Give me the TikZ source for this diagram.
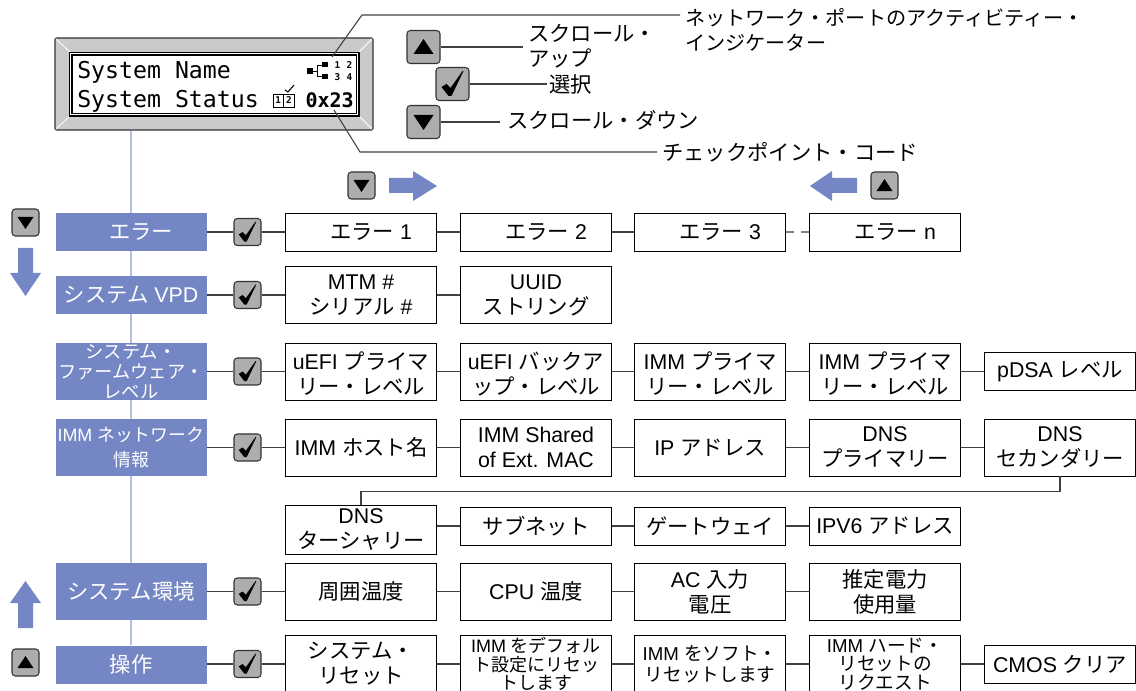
\documentclass[tikz,border=0pt]{standalone}
\usepackage{fontspec}
\setmainfont{Liberation Sans}
\setmonofont{DejaVu Sans Mono}
\newfontfamily\jpfont{Noto Sans CJK JP}
\newcommand{\J}[1]{{\jpfont #1}}
\newcommand{\lowr}{\rule{0pt}{17pt}}
\usetikzlibrary{arrows.meta}
\usetikzlibrary{calc}

\definecolor{menublue}{HTML}{7486C4}
\definecolor{linkblue}{HTML}{B4BEE0}
\definecolor{btngray}{HTML}{ADADAD}
\definecolor{bezelgray}{HTML}{CACACA}

\tikzset{
	txt/.style={font=\fontsize{16}{18.75}\selectfont},
	txtsm/.style={font=\fontsize{13.7}{15}\selectfont},
	menubox/.style={fill=menublue, text=white, minimum width=113.25pt, inner sep=0, align=center, txt},
	itembox/.style={draw=black, line width=.7pt, fill=white, minimum width=113.5pt, inner sep=0, align=center, txt},
	short/.style={minimum height=28.5pt},
	tall/.style={minimum height=42.75pt},
	btnbig/.style={draw=black!80, fill=btngray, line width=.8pt, rounded corners=2.5pt, minimum size=24.75pt, inner sep=0},
	btnsm/.style={draw=black!80, fill=btngray, line width=.8pt, rounded corners=2.5pt, minimum size=20.25pt, inner sep=0},
	lbl/.style={anchor=west, align=left, inner sep=0, txt},
	line/.style={draw=black!75, line width=.8pt},
	vline/.style={draw=linkblue, line width=1pt},
	flow/.style={fill=menublue, draw=none},
	upmark/.pic={\fill (-10,7)--(10,7)--(0,-8)--cycle;},
	downmark/.pic={\fill (-10,-7)--(10,-7)--(0,8)--cycle;},
	checkmark/.pic={\fill (-11,3)--(-6,0)--(-2,4)--(10,-13)--(11,-13)--(-1,12)--(-4,12)--cycle;},
}

\begin{document}
\begin{tikzpicture}[x=.75pt,y=-.75pt]

		\clip (0,0) rectangle (1136,691);

		% front panel
		\node [draw=black!80, fill=bezelgray, line width=.8pt, rounded corners=1pt, minimum width=238.5pt, minimum height=69pt, inner sep=0] (lcd) at (214,84) {};
		\draw [white, line width=.6pt] (56,39)--(70,52) (372,39)--(359,52) (56,129)--(70,116) (372,129)--(359,116);
		\draw [black, fill=white, line width=1pt] (69.5,52.5) rectangle (359,116);
		\draw [black, fill=white, line width=1.2pt] (72,55) rectangle (356.5,113.5);

		\node [anchor=west, inner sep=0, font=\ttfamily\fontsize{17.4}{20}\selectfont] (sysname) at (77,72) {System Name};
		\node [anchor=west, inner sep=0, font=\ttfamily\fontsize{17.4}{20}\selectfont] (sysstat) at (77,101) {System Status};
		\node [anchor=east, inner sep=0, font=\ttfamily\bfseries\fontsize{15}{20}\selectfont] (code) at (354,100) {0x23};

		\fill (307,68) rectangle (313,74);
		\fill (322,62) rectangle (328,67);
		\fill (322,74) rectangle (328,79);
		\draw [line width=.7pt] (313,71)--(317,71) (322,65)--(317,65)--(317,76)--(322,76);
		\node [inner sep=0, font=\ttfamily\bfseries\fontsize{7}{7}\selectfont] (port1) at (337.5,65) {1};
		\node [inner sep=0, font=\ttfamily\bfseries\fontsize{7}{7}\selectfont] (port2) at (349.5,65) {2};
		\node [inner sep=0, font=\ttfamily\bfseries\fontsize{7}{7}\selectfont] (port3) at (337.5,77) {3};
		\node [inner sep=0, font=\ttfamily\bfseries\fontsize{7}{7}\selectfont] (port4) at (349.5,77) {4};

		\draw [line width=.7pt] (273,94) rectangle (294,107);
		\draw [line width=.7pt] (283.5,94)--(283.5,107);
		\node [inner sep=0, font=\ttfamily\bfseries\fontsize{7}{6}\selectfont] (step1) at (278.3,100.5) {1};
		\node [inner sep=0, font=\ttfamily\bfseries\fontsize{7}{6}\selectfont] (step2) at (289,100.5) {2};
		\draw [line width=.8pt] (285,90)--(288,92)--(294,85);

		% legend
		\node [btnbig] (bup) at (423.5,47) {};
		\pic at (bup) {upmark};
		\node [btnbig] (bok) at (452.5,84) {};
		\pic at (bok) {checkmark};
		\node [btnbig] (bdown) at (423.5,122) {};
		\pic at (bdown) {downmark};

		\node [lbl] (lblup) at (528,46.5) {\J{スクロール・}\\\J{アップ}};
		\node [lbl] (lblok) at (549,84) {\J{選択}};
		\node [lbl] (lbldown) at (507,120) {\J{スクロール・ダウン}};
		\node [lbl, font=\fontsize{15.1}{18.75}\selectfont] (lblnet) at (685,29.5) {\J{ネットワーク・ポートのアクティビティー・}\\\J{インジケーター}};
		\node [lbl] (lblcode) at (662,152) {\J{チェックポイント・コード}};

		\draw [line] (bup.east)--(523,47);
		\draw [line] (bok.east)--(547,84);
		\draw [line] (bdown.east)--(500,122);

		\coordinate (netpt) at (332,57);
		\coordinate (netbend) at (362,15);
		\coordinate (netend) at (680,15);
		\coordinate (codept) at (334,110);
		\coordinate (codebend) at (360,152);
		\coordinate (codeend) at (657,152);
		\draw [line] (netpt)--(netbend)--(netend);
		\draw [line] (codept)--(codebend)--(codeend);

		% scroll hints
		\node [btnsm] (hdown) at (361.5,185.5) {};
		\pic [scale=.8] at (hdown) {downmark};
		\node [btnsm] (hup) at (884.5,185.5) {};
		\pic [scale=.8] at (hup) {upmark};
		\node [btnsm] (vdown) at (25.5,222.5) {};
		\pic [scale=.8] at (vdown) {downmark};
		\node [btnsm] (vup) at (25.5,662.5) {};
		\pic [scale=.8] at (vup) {upmark};

		\fill [flow] (389,178)--(413,178)--(413,171)--(437,186)--(413,201)--(413,193)--(389,193)--cycle;
		\fill [flow] (857,178)--(832,178)--(832,171)--(810,186)--(832,201)--(832,193)--(857,193)--cycle;
		\fill [flow] (18,248)--(33,248)--(33,273)--(41,273)--(25.5,296)--(10,273)--(18,273)--cycle;
		\fill [flow] (18,628)--(33,628)--(33,603)--(41,603)--(25.5,581)--(10,603)--(18,603)--cycle;

		% menu column
		\node [menubox, short] (merr) at (131,232) {\hspace*{15pt}\J{エラー}};
		\node [menubox, short] (mvpd) at (131,295) {\J{システム} VPD};
		\node [menubox, tall, txtsm] (mfw) at (131,371.5) {\J{システム・}\\\J{ファームウェア・}\\\J{レベル}};
		\node [menubox, tall] (mnet) at (131,447.5) {\fontsize{13.4}{18.75}\selectfont IMM \J{ネットワーク}\\\fontsize{13.4}{18.75}\selectfont\J{情報}};
		\node [menubox, tall] (menv) at (131,591.5) {\J{システム環境}};
		\node [menubox, short] (mop) at (131,664.5) {\J{操作}};

		\draw [vline] (lcd.south -| merr.north)--(merr);
		\draw [vline] (merr)--(mvpd);
		\draw [vline] (mvpd)--(mfw);
		\draw [vline] (mfw)--(mnet);
		\draw [vline] (mnet)--(menv);
		\draw [vline] (menv)--(mop);

		\foreach \row/\ypos in {err/232,vpd/295,fw/371.5,net/447.5,env/591.5,op/664}{
			\node [btnsm] (chk\row) at (247.5,\ypos) {};
			\pic [scale=.8] at (chk\row) {checkmark};
		}

		% errors
		\node [itembox, short] (erra) at (361,232) {\hspace*{15pt}\J{エラー} 1};
		\node [itembox, short] (errb) at (536,232) {\hspace*{15pt}\J{エラー} 2};
		\node [itembox, short] (errc) at (710,232) {\hspace*{15pt}\J{エラー} 3};
		\node [itembox, short] (errd) at (885,232) {\hspace*{15pt}\J{エラー} n};
		\draw [line] (merr)--(chkerr)--(erra)--(errb)--(errc);
		\draw [line, dashed, dash pattern=on 6pt off 5pt, black!50] (errc)--(errd);

		% vpd
		\node [itembox, tall] (vpda) at (361,295) {MTM \#\\\J{シリアル} \#};
		\node [itembox, tall] (vpdb) at (536,295) {UUID\\\J{ストリング}};
		\draw [line] (mvpd)--(chkvpd)--(vpda)--(vpdb);

		% firmware
		\node [itembox, tall] (fwa) at (361,371.5) {\lowr uEFI \J{プライマ}\\\J{リー・レベル}};
		\node [itembox, tall] (fwb) at (536,371.5) {\lowr uEFI \J{バックア}\\\J{ップ・レベル}};
		\node [itembox, tall] (fwc) at (710,371.5) {\lowr IMM \J{プライマ}\\\J{リー・レベル}};
		\node [itembox, tall] (fwd) at (885,371.5) {\lowr IMM \J{プライマ}\\\J{リー・レベル}};
		\node [itembox, short] (fwe) at (1060,371.5) {pDSA \J{レベル}};
		\draw [line] (mfw)--(chkfw)--(fwa)--(fwb)--(fwc)--(fwd)--(fwe);

		% network
		\node [itembox, tall] (neta) at (361,447.5) {IMM \J{ホスト名}};
		\node [itembox, tall] (netb) at (536,447.5) {IMM Shared\\of Ext. MAC};
		\node [itembox, tall] (netc) at (710,447.5) {IP \J{アドレス}};
		\node [itembox, tall] (netd) at (885,447.5) {DNS\\\J{プライマリー}};
		\node [itembox, tall] (nete) at (1060,447.5) {DNS\\\J{セカンダリー}};
		\draw [line] (mnet)--(chknet)--(neta)--(netb)--(netc)--(netd)--(nete);

		\node [itembox, minimum height=36.75pt] (netf) at (361,529.5) {DNS\\\J{ターシャリー}};
		\node [itembox, short] (netg) at (536,526) {\J{サブネット}};
		\node [itembox, short] (neth) at (710,526) {\J{ゲートウェイ}};
		\node [itembox, short] (neti) at (885,526) {IPV6 \J{アドレス}};
		\draw [line] (nete.south)--++(0,15)-|(netf.north);
		\draw [line] (netf.east |- netg)--(netg)--(neth)--(neti);

		% environment
		\node [itembox, tall] (enva) at (361,591.5) {\J{周囲温度}};
		\node [itembox, tall] (envb) at (536,591.5) {CPU \J{温度}};
		\node [itembox, tall] (envc) at (710,591.5) {AC \J{入力}\\\J{電圧}};
		\node [itembox, tall] (envd) at (885,591.5) {\J{推定電力}\\\J{使用量}};
		\draw [line] (menv)--(chkenv)--(enva)--(envb)--(envc)--(envd);

		% actions
		\node [itembox, tall] (opa) at (361,664) {\J{システム・}\\\J{リセット}};
		\node [itembox, tall, font=\fontsize{13.5}{13.7}\selectfont] (opb) at (536,664) {IMM \J{をデフォル}\\\J{ト設定にリセッ}\\\J{トします}};
		\node [itembox, tall, font=\fontsize{14}{16}\selectfont] (opc) at (710,664) {IMM \J{をソフト・}\\\J{リセットします}};
		\node [itembox, tall, font=\fontsize{14}{13.8}\selectfont] (opd) at (885,664) {IMM \J{ハード・}\\\J{リセットの}\\\J{リクエスト}};
		\node [itembox, short] (ope) at (1060,664.5) {CMOS \J{クリア}};
		\draw [line] (mop.east |- chkop)--(chkop)--(opa)--(opb)--(opc)--(opd)--(ope.west |- opd);

\end{tikzpicture}
\end{document}
